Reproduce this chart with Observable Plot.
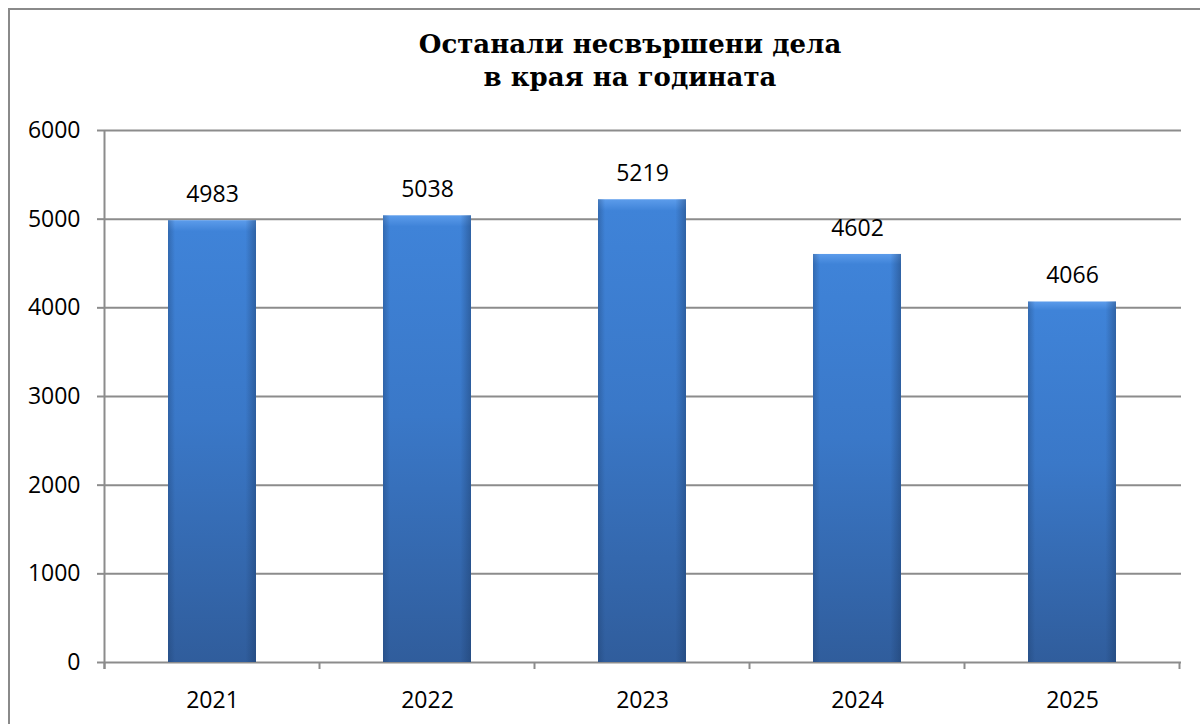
<!DOCTYPE html>
<html>
<head>
<meta charset="utf-8">
<script src="https://cdn.jsdelivr.net/npm/d3@7"></script>
<script src="https://cdn.jsdelivr.net/npm/@observablehq/plot@0.6"></script>
<style>
  html, body { margin: 0; padding: 0; background: #fff; }
  #wrap { position: relative; width: 1200px; height: 724px; overflow: hidden; }
  #border { position: absolute; left: 8px; top: 8px; width: 1300px; height: 800px;
            border-left: 2px solid #8a8a8a; border-top: 2px solid #8a8a8a; }
  #title { position: absolute; left: 0; top: 28px; width: 1260px; text-align: center;
           font-family: "DejaVu Serif", serif; font-weight: bold; font-size: 26px;
           line-height: 33px; color: #000; }
  #chart { position: absolute; left: 0; top: 100px; }
</style>
</head>
<body>
<div id="wrap">
  <div id="border"></div>
  <div id="title">Останали несвършени дела<br>в края на годината</div>
  <div id="chart"></div>
</div>
<script>
const years = ["2021", "2022", "2023", "2024", "2025"];
const values = [4983, 5038, 5219, 4602, 4066];
const yTicks = [0, 1000, 2000, 3000, 4000, 5000, 6000];

const data = years.map((y, i) => ({year: y, value: values[i]}));
const font = "'Open Sans', sans-serif";

const plot = Plot.plot({
  width: 1200,
  height: 619,
  marginTop: 30,
  marginBottom: 57,
  marginLeft: 104,
  marginRight: 19,
  style: {fontFamily: font, fontSize: "23px", color: "#000", background: "transparent"},
  x: {domain: years, paddingInner: 0.59, paddingOuter: 0.295, label: null},
  y: {domain: [0, 6000], label: null},
  marks: [
    Plot.ruleY(yTicks, {stroke: "#8c8c8c", strokeWidth: 2}),
    Plot.axisY({ticks: yTicks, tickSize: 7, tickPadding: 17, stroke: "#8c8c8c", strokeWidth: 2, tickFormat: d => String(d), fontSize: 23, label: null}),
    Plot.axisX({tickSize: 0, tickPadding: 29, fontSize: 23, label: null}),
    Plot.barY(data, {x: "year", y: "value", fill: "url(#gv)"}),
    Plot.barY(data, {x: "year", y: "value", fill: "url(#gh)"}),
    Plot.text(data, {x: "year", y: "value", text: d => String(d.value), dy: -26, fontSize: 23, fill: "#000"})
  ]
});

// gradients
const svg = d3.select(plot);
const defs = svg.insert("defs", ":first-child");
const gv = defs.append("linearGradient").attr("id", "gv").attr("x1", 0).attr("y1", 0).attr("x2", 0).attr("y2", 1);
gv.append("stop").attr("offset", "0%").attr("stop-color", "#5c9ceb");
gv.append("stop").attr("offset", "2.5%").attr("stop-color", "#3f83d8");
gv.append("stop").attr("offset", "45%").attr("stop-color", "#3a78c8");
gv.append("stop").attr("offset", "100%").attr("stop-color", "#305d9c");
const gh = defs.append("linearGradient").attr("id", "gh").attr("x1", 0).attr("y1", 0).attr("x2", 1).attr("y2", 0);
gh.append("stop").attr("offset", "0%").attr("stop-color", "#1b3a66").attr("stop-opacity", 0.35);
gh.append("stop").attr("offset", "8%").attr("stop-color", "#1b3a66").attr("stop-opacity", 0.0);
gh.append("stop").attr("offset", "88%").attr("stop-color", "#1b3a66").attr("stop-opacity", 0.0);
gh.append("stop").attr("offset", "100%").attr("stop-color", "#1b3a66").attr("stop-opacity", 0.45);

// y axis line and category ticks at band boundaries, via Plot's scales
const xs = plot.scale("x");
const ys = plot.scale("y");
const step = xs.step, bw = xs.bandwidth;
const y0 = ys.apply(0), yTop = ys.apply(6000);
const bounds = years.map(y => xs.apply(y) - (step - bw) / 2);
bounds.push(xs.apply(years[years.length - 1]) + bw + (step - bw) / 2);
const g = svg.append("g").attr("stroke", "#8c8c8c").attr("stroke-width", 2);
g.append("line").attr("x1", bounds[0]).attr("x2", bounds[0]).attr("y1", yTop).attr("y2", y0 + 7);
bounds.forEach(b => g.append("line").attr("x1", b).attr("x2", b).attr("y1", y0).attr("y2", y0 + 7));

document.getElementById("chart").appendChild(plot);
</script>
</body>
</html>
